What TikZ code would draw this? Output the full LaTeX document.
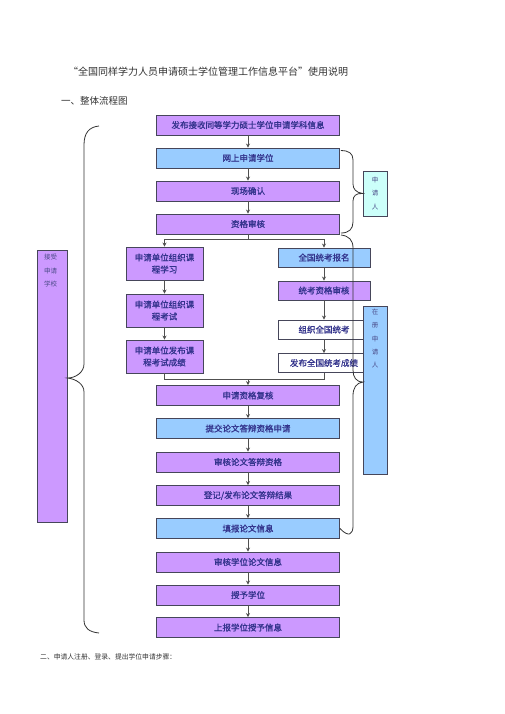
\documentclass[tikz,border=0pt]{standalone}
\usepackage{fontspec}
\setmainfont{Noto Sans CJK SC}
\newfontfamily\cjk{Noto Sans CJK SC}
\newfontfamily\cjkb{Noto Sans CJK SC}[FakeBold=1.2]
\usetikzlibrary{arrows.meta}
\definecolor{pur}{RGB}{204,153,255}
\definecolor{blu}{RGB}{153,204,255}
\definecolor{cya}{RGB}{204,255,250}
\definecolor{txt}{RGB}{51,51,140}
\definecolor{edgec}{RGB}{70,70,90}
\definecolor{linec}{RGB}{80,80,80}
\tikzset{
  box/.style={draw=edgec, line width=0.9pt, text=txt, font=\cjkb\fontsize{8.5}{12}\selectfont, align=center, inner sep=0pt},
  mainbox/.style={box, minimum width=183pt, minimum height=20pt},
  lbox/.style={box, minimum width=77pt, minimum height=33pt},
  rbox/.style={box, minimum width=92pt, minimum height=19pt},
  sidebox/.style={draw=edgec, line width=0.8pt, inner sep=0pt},
  sidetxt/.style={text=txt!70!gray, font=\cjk\fontsize{6.5}{13.5}\selectfont, align=center, inner sep=0pt},
  arr/.style={draw=linec, line width=0.8pt, -{Stealth[length=4pt,width=4pt]}},
  ln/.style={draw=linec, line width=0.8pt},
  brace/.style={draw=black!80, line width=0.8pt},
  plain/.style={text=black!80, inner sep=0pt, anchor=west}
}
\begin{document}
\begin{tikzpicture}[x=1pt,y=-1pt]
\useasboundingbox (0,0) rectangle (505,714);
\fill[white] (0,0) rectangle (505,714);

% texts
\node[plain, font=\cjk\fontsize{10}{12}\selectfont] (title) at (68,72) {“全国同样学力人员申请硕士学位管理工作信息平台”使用说明};
\node[plain, font=\cjk\fontsize{9.5}{11}\selectfont] (h1) at (61,101) {一、整体流程图};
\node[plain, font=\cjk\fontsize{6.8}{8}\selectfont] (h2) at (40,657) {二、申请人注册、登录、提出学位申请步骤：};

% main column
\node[mainbox, fill=pur] (b1) at (248,125) {发布接收同等学力硕士学位申请学科信息};
\node[mainbox, fill=blu] (b2) at (248,158) {网上申请学位};
\node[mainbox, fill=pur] (b3) at (248,191) {现场确认};
\node[mainbox, fill=pur] (b4) at (248,224) {资格审核};
\node[mainbox, fill=pur] (b5) at (248,395.5) {申请资格复核};
\node[mainbox, fill=blu] (b6) at (248,428.5) {提交论文答辩资格申请};
\node[mainbox, fill=pur] (b7) at (248,462) {审核论文答辩资格};
\node[mainbox, fill=pur] (b8) at (248,495.5) {登记/发布论文答辩结果};
\node[mainbox, fill=blu] (b9) at (248,528.5) {填报论文信息};
\node[mainbox, fill=pur] (b10) at (248,562) {审核学位论文信息};
\node[mainbox, fill=pur] (b11) at (248,595) {授予学位};
\node[mainbox, fill=pur] (b12) at (248,627.5) {上报学位授予信息};

% left column
\node[lbox, fill=pur] (l1) at (164.5,263.5) {申请单位组织课\\程学习};
\node[lbox, fill=pur] (l2) at (164.5,310.5) {申请单位组织课\\程考试};
\node[lbox, fill=pur] (l3) at (164.5,356.5) {申请单位发布课\\程考试成绩};

% right column
\node[rbox, fill=blu] (r1) at (324,257.5) {全国统考报名};
\node[rbox, fill=pur] (r2) at (324,290.5) {统考资格审核};
\node[rbox, fill=white] (r3) at (324,329.5) {组织全国统考};
\node[rbox, fill=white] (r4) at (324,363) {发布全国统考成绩};

% side boxes
\node[sidebox, fill=cya, minimum width=24pt, minimum height=45pt] (s1) at (375,193.5) {};
\node[sidetxt] (s1t) at (375,193.5) {申\\请\\人};
\node[sidebox, fill=blu, minimum width=24pt, minimum height=168pt] (s2) at (375,390) {};
\node[sidetxt, anchor=north, font=\cjk\fontsize{6.5}{13.2}\selectfont] (s2t) at (375,309) {在\\册\\申\\请\\人};
\node[sidebox, fill=pur, minimum width=30pt, minimum height=272pt] (s3) at (52,386) {};
\node[sidetxt, anchor=north] (s3t) at (50.5,254) {接受\\申请\\学校};

% arrows main
\draw[arr] (b1) -- (b2);
\draw[arr] (b2) -- (b3);
\draw[arr] (b3) -- (b4);
\coordinate (sp) at (248,239.5);
\draw[ln] (b4.south) -- (sp);
\draw[arr] (sp) -| (l1.north);
\draw[arr] (sp) -| (r1.north);
\draw[arr] (l1) -- (l2);
\draw[arr] (l2) -- (l3);
\draw[arr] (r1) -- (r2);
\draw[arr] (r2) -- (r3);
\draw[arr] (r3) -- (r4);
\coordinate (mg) at (248,379);
\draw[ln] (l3.south) |- (mg);
\draw[ln] (r4.south) |- (mg);
\draw[arr] (mg) -- (b5.north);
\draw[arr] (b5) -- (b6);
\draw[arr] (b6) -- (b7);
\draw[arr] (b7) -- (b8);
\draw[arr] (b8) -- (b9);
\draw[arr] (b9) -- (b10);
\draw[arr] (b10) -- (b11);
\draw[arr] (b11) -- (b12);

% braces
\draw[brace] (b2.north east) ++(1,3)
  .. controls +(8,0) and +(0,-6) .. ++(12,9)
  -- (353,184)
  .. controls (353,189) and (356,192.5) .. (s1.west)
  .. controls (356,193) and (353,196) .. (353,201)
  -- (353,222)
  .. controls (353,229) and (349,233) .. (341,233);
\draw[brace] (341,235)
  .. controls (349,236) and (353,240) .. (353,248)
  -- (353,370)
  .. controls (353,377) and (356,382) .. (363,382)
  .. controls (356,383) and (353,388) .. (353,396)
  -- (353,526)
  .. controls (353,534) and (349,538) .. (b9.east);
\draw[brace] (99,126)
  .. controls (89,127) and (84,133) .. (84,145)
  -- (84,364)
  .. controls (84,372) and (76,378) .. (s3.east |- 0,378)
  .. controls (76,379) and (84,384) .. (84,392)
  -- (84,620)
  .. controls (84,628) and (89,632) .. (99,633);
\end{tikzpicture}
\end{document}
